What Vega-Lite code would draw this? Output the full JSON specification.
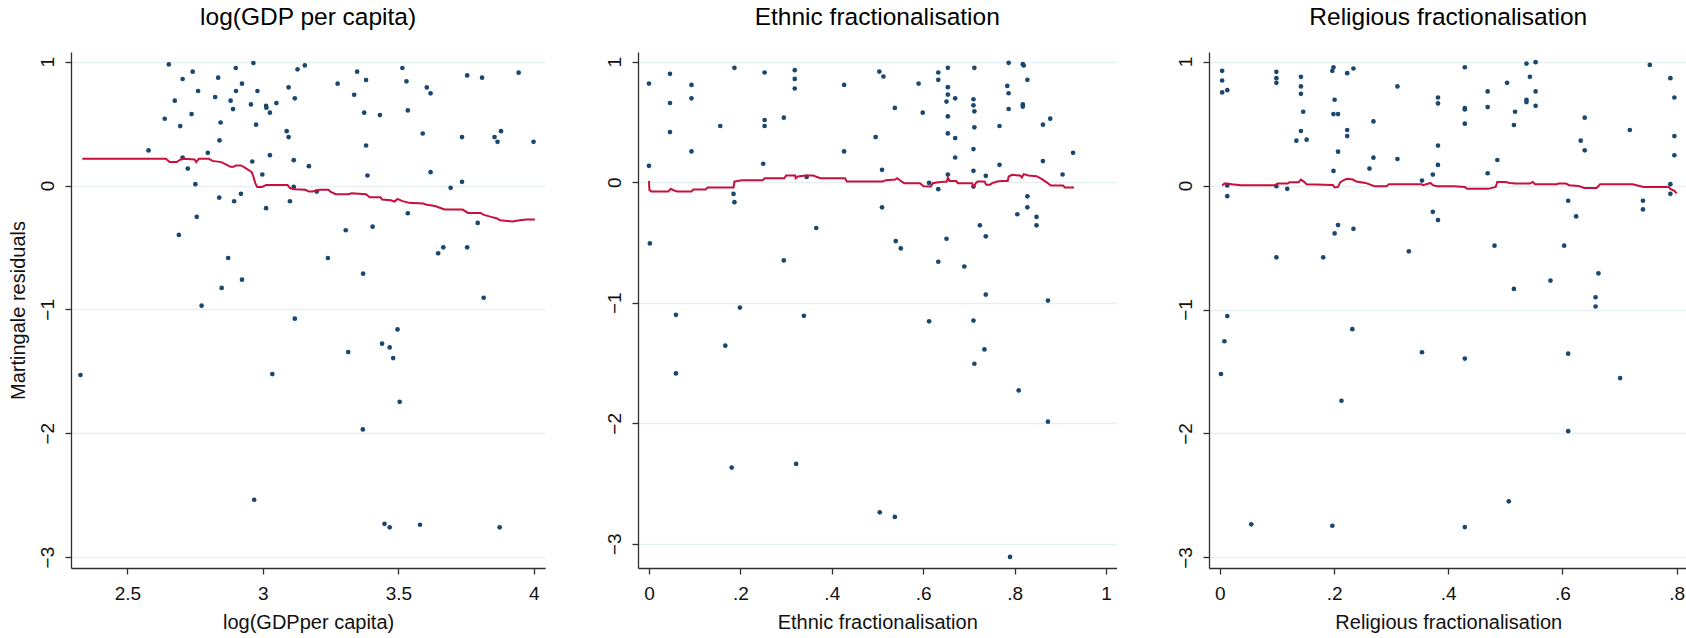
{
  "$schema": "https://vega.github.io/schema/vega-lite/v6.json",
  "background": "white",
  "padding": {"left": 8, "top": 4, "right": 0, "bottom": 0},
  "bounds": "flush",
  "spacing": 92,
  "config": {
    "font": "Liberation Sans",
    "view": {"stroke": null},
    "axis": {
      "domainColor": "#2e2e2e",
      "domainWidth": 1.3,
      "tickColor": "#2e2e2e",
      "tickWidth": 1.3,
      "tickSize": 6,
      "labelColor": "#111111",
      "labelFontSize": 19,
      "labelFlush": false,
      "labelOverlap": false,
      "titleColor": "#111111",
      "titleFontSize": 20,
      "titleFontWeight": "normal"
    },
    "axisX": {
      "grid": false,
      "labelBaseline": "alphabetic",
      "labelPadding": 25.5,
      "titleBaseline": "alphabetic",
      "titleY": 60.8
    },
    "axisY": {
      "grid": true,
      "gridColor": "#e6eff1",
      "gridWidth": 1.3
    },
    "title": {
      "fontSize": 24.5,
      "fontWeight": "normal",
      "color": "#000000",
      "anchor": "middle",
      "frame": "group",
      "baseline": "alphabetic",
      "offset": 22
    }
  },
  "datasets": {
    "gdp_pts": [
      {"x":2.653,"y":0.978},{"x":2.965,"y":0.989},{"x":3.155,"y":0.970},{"x":3.128,"y":0.938},{"x":2.900,"y":0.949},{"x":2.741,"y":0.919},{"x":2.835,"y":0.871},{"x":2.704,"y":0.860},{"x":2.923,"y":0.822},{"x":2.761,"y":0.763},{"x":2.901,"y":0.763},{"x":2.980,"y":0.763},{"x":3.095,"y":0.792},{"x":2.675,"y":0.685},{"x":2.824,"y":0.714},{"x":2.881,"y":0.685},{"x":3.118,"y":0.704},{"x":2.956,"y":0.655},{"x":3.012,"y":0.644},{"x":3.013,"y":0.628},{"x":3.050,"y":0.666},{"x":2.890,"y":0.617},{"x":2.737,"y":0.577},{"x":3.026,"y":0.588},{"x":2.638,"y":0.539},{"x":2.844,"y":0.509},{"x":2.695,"y":0.480},{"x":2.975,"y":0.491},{"x":3.088,"y":0.439},{"x":3.095,"y":0.391},{"x":2.840,"y":0.364},{"x":2.578,"y":0.283},{"x":2.797,"y":0.264},{"x":3.026,"y":0.245},{"x":2.704,"y":0.226},{"x":3.114,"y":0.205},{"x":2.961,"y":0.194},{"x":2.723,"y":0.137},{"x":3.170,"y":0.156},{"x":2.998,"y":0.089},{"x":2.751,"y":0.011},{"x":3.114,"y":-0.011},{"x":2.839,"y":-0.097},{"x":2.919,"y":-0.067},{"x":2.894,"y":-0.127},{"x":3.100,"y":-0.127},{"x":3.012,"y":-0.183},{"x":2.756,"y":-0.253},{"x":2.690,"y":-0.399},{"x":2.872,"y":-0.585},{"x":2.923,"y":-0.760},{"x":2.848,"y":-0.827},{"x":2.774,"y":-0.970},{"x":3.118,"y":-1.075},{"x":3.199,"y":-0.049},{"x":3.276,"y":0.822},{"x":3.348,"y":0.919},{"x":3.381,"y":0.852},{"x":3.337,"y":0.733},{"x":3.374,"y":0.588},{"x":3.432,"y":0.569},{"x":3.381,"y":0.323},{"x":3.386,"y":0.081},{"x":3.515,"y":0.949},{"x":3.530,"y":0.841},{"x":3.535,"y":0.606},{"x":3.605,"y":0.792},{"x":3.619,"y":0.744},{"x":3.590,"y":0.420},{"x":3.619,"y":0.108},{"x":3.754,"y":0.889},{"x":3.809,"y":0.871},{"x":3.944,"y":0.911},{"x":3.735,"y":0.391},{"x":3.855,"y":0.391},{"x":3.879,"y":0.439},{"x":3.866,"y":0.353},{"x":3.999,"y":0.353},{"x":3.693,"y":-0.019},{"x":3.735,"y":0.030},{"x":3.535,"y":-0.224},{"x":3.793,"y":-0.302},{"x":3.306,"y":-0.361},{"x":3.405,"y":-0.332},{"x":3.647,"y":-0.547},{"x":3.666,"y":-0.499},{"x":3.754,"y":-0.499},{"x":3.240,"y":-0.585},{"x":3.370,"y":-0.712},{"x":3.815,"y":-0.906},{"x":3.497,"y":-1.162},{"x":3.440,"y":-1.277},{"x":3.468,"y":-1.307},{"x":3.315,"y":-1.345},{"x":3.481,"y":-1.393},{"x":2.327,"y":-1.530},{"x":3.035,"y":-1.522},{"x":3.505,"y":-1.746},{"x":3.369,"y":-1.969},{"x":2.968,"y":-2.537},{"x":3.449,"y":-2.731},{"x":3.468,"y":-2.760},{"x":3.580,"y":-2.739},{"x":3.874,"y":-2.760}
    ],
    "gdp_smooth": [
      {"x":2.334,"y":0.216},{"x":2.642,"y":0.216},{"x":2.656,"y":0.189},{"x":2.682,"y":0.189},{"x":2.695,"y":0.208},{"x":2.708,"y":0.216},{"x":2.748,"y":0.210},{"x":2.754,"y":0.189},{"x":2.764,"y":0.216},{"x":2.801,"y":0.216},{"x":2.814,"y":0.199},{"x":2.847,"y":0.189},{"x":2.867,"y":0.167},{"x":2.880,"y":0.151},{"x":2.893,"y":0.151},{"x":2.900,"y":0.162},{"x":2.919,"y":0.162},{"x":2.932,"y":0.146},{"x":2.946,"y":0.127},{"x":2.959,"y":0.108},{"x":2.965,"y":0.073},{"x":2.972,"y":0.019},{"x":2.979,"y":-0.011},{"x":2.998,"y":-0.011},{"x":3.012,"y":0.005},{"x":3.091,"y":0.005},{"x":3.101,"y":-0.022},{"x":3.117,"y":-0.030},{"x":3.157,"y":-0.035},{"x":3.170,"y":-0.049},{"x":3.183,"y":-0.049},{"x":3.209,"y":-0.035},{"x":3.242,"y":-0.035},{"x":3.249,"y":-0.049},{"x":3.269,"y":-0.070},{"x":3.315,"y":-0.070},{"x":3.328,"y":-0.062},{"x":3.381,"y":-0.070},{"x":3.394,"y":-0.094},{"x":3.434,"y":-0.094},{"x":3.440,"y":-0.113},{"x":3.473,"y":-0.119},{"x":3.486,"y":-0.129},{"x":3.497,"y":-0.108},{"x":3.513,"y":-0.124},{"x":3.539,"y":-0.140},{"x":3.592,"y":-0.146},{"x":3.605,"y":-0.156},{"x":3.625,"y":-0.162},{"x":3.638,"y":-0.167},{"x":3.658,"y":-0.183},{"x":3.671,"y":-0.194},{"x":3.737,"y":-0.194},{"x":3.757,"y":-0.221},{"x":3.803,"y":-0.221},{"x":3.816,"y":-0.237},{"x":3.842,"y":-0.253},{"x":3.862,"y":-0.264},{"x":3.875,"y":-0.280},{"x":3.921,"y":-0.291},{"x":3.948,"y":-0.280},{"x":3.974,"y":-0.275},{"x":4.004,"y":-0.275}
    ],
    "eth_pts": [
      {"x":0.0,"y":0.818},{"x":0.0,"y":0.136},{"x":0.002,"y":-0.508},{"x":0.046,"y":0.899},{"x":0.046,"y":0.657},{"x":0.046,"y":0.416},{"x":0.093,"y":0.807},{"x":0.093,"y":0.696},{"x":0.093,"y":0.255},{"x":0.059,"y":-1.10},{"x":0.156,"y":0.466},{"x":0.187,"y":0.949},{"x":0.185,"y":-0.097},{"x":0.187,"y":-0.166},{"x":0.199,"y":-1.04},{"x":0.253,"y":0.910},{"x":0.253,"y":0.516},{"x":0.253,"y":0.466},{"x":0.250,"y":0.153},{"x":0.295,"y":0.535},{"x":0.295,"y":-0.649},{"x":0.319,"y":0.929},{"x":0.319,"y":0.857},{"x":0.319,"y":0.777},{"x":0.345,"y":0.044},{"x":0.366,"y":-0.380},{"x":0.339,"y":-1.108},{"x":0.427,"y":0.807},{"x":0.427,"y":0.255},{"x":0.496,"y":0.374},{"x":0.504,"y":0.918},{"x":0.513,"y":0.877},{"x":0.510,"y":0.103},{"x":0.510,"y":-0.208},{"x":0.538,"y":0.616},{"x":0.540,"y":-0.488},{"x":0.551,"y":-0.549},{"x":0.590,"y":0.818},{"x":0.599,"y":0.577},{"x":0.613,"y":-0.006},{"x":0.633,"y":0.910},{"x":0.633,"y":0.849},{"x":0.633,"y":-0.058},{"x":0.633,"y":-0.660},{"x":0.654,"y":0.949},{"x":0.654,"y":0.788},{"x":0.654,"y":0.727},{"x":0.651,"y":0.669},{"x":0.654,"y":0.546},{"x":0.654,"y":0.405},{"x":0.654,"y":0.064},{"x":0.651,"y":-0.469},{"x":0.670,"y":0.696},{"x":0.670,"y":0.366},{"x":0.670,"y":0.205},{"x":0.690,"y":-0.699},{"x":0.712,"y":0.949},{"x":0.710,"y":0.688},{"x":0.710,"y":0.638},{"x":0.712,"y":0.588},{"x":0.712,"y":0.455},{"x":0.710,"y":0.275},{"x":0.710,"y":0.094},{"x":0.710,"y":-0.036},{"x":0.737,"y":0.053},{"x":0.724,"y":-0.358},{"x":0.737,"y":-0.449},{"x":0.737,"y":-0.932},{"x":0.767,"y":0.466},{"x":0.767,"y":0.144},{"x":0.787,"y":0.990},{"x":0.784,"y":0.799},{"x":0.787,"y":0.738},{"x":0.787,"y":0.607},{"x":0.818,"y":0.979},{"x":0.820,"y":0.968},{"x":0.828,"y":0.849},{"x":0.818,"y":0.646},{"x":0.818,"y":0.627},{"x":0.806,"y":-0.266},{"x":0.828,"y":-0.117},{"x":0.828,"y":-0.208},{"x":0.848,"y":-0.288},{"x":0.848,"y":-0.358},{"x":0.862,"y":0.477},{"x":0.862,"y":0.175},{"x":0.878,"y":0.527},{"x":0.873,"y":-0.982},{"x":0.905,"y":0.064},{"x":0.928,"y":0.244},{"x":0.613,"y":-1.154},{"x":0.710,"y":-1.148},{"x":0.167,"y":-1.356},{"x":0.059,"y":-1.586},{"x":0.734,"y":-1.387},{"x":0.712,"y":-1.506},{"x":0.809,"y":-1.727},{"x":0.873,"y":-1.986},{"x":0.181,"y":-2.367},{"x":0.322,"y":-2.337},{"x":0.505,"y":-2.738},{"x":0.538,"y":-2.776},{"x":0.790,"y":-3.108}
    ],
    "eth_smooth": [
      {"x":0.0,"y":0.011},{"x":0.001,"y":-0.064},{"x":0.005,"y":-0.078},{"x":0.042,"y":-0.078},{"x":0.048,"y":-0.055},{"x":0.054,"y":-0.067},{"x":0.062,"y":-0.078},{"x":0.093,"y":-0.078},{"x":0.097,"y":-0.061},{"x":0.124,"y":-0.061},{"x":0.128,"y":-0.044},{"x":0.185,"y":-0.044},{"x":0.187,"y":0.006},{"x":0.203,"y":0.017},{"x":0.249,"y":0.017},{"x":0.253,"y":0.033},{"x":0.296,"y":0.033},{"x":0.300,"y":0.055},{"x":0.320,"y":0.055},{"x":0.321,"y":0.033},{"x":0.326,"y":0.047},{"x":0.343,"y":0.055},{"x":0.359,"y":0.055},{"x":0.375,"y":0.033},{"x":0.429,"y":0.033},{"x":0.433,"y":0.006},{"x":0.511,"y":0.006},{"x":0.519,"y":0.017},{"x":0.539,"y":0.022},{"x":0.543,"y":0.033},{"x":0.553,"y":0.006},{"x":0.558,"y":-0.008},{"x":0.593,"y":-0.008},{"x":0.601,"y":-0.033},{"x":0.617,"y":-0.036},{"x":0.621,"y":-0.008},{"x":0.633,"y":0.0},{"x":0.652,"y":0.006},{"x":0.654,"y":0.039},{"x":0.658,"y":0.011},{"x":0.672,"y":0.011},{"x":0.676,"y":-0.008},{"x":0.707,"y":-0.008},{"x":0.711,"y":-0.036},{"x":0.715,"y":-0.008},{"x":0.719,"y":0.006},{"x":0.734,"y":0.006},{"x":0.738,"y":-0.022},{"x":0.746,"y":-0.022},{"x":0.751,"y":-0.008},{"x":0.762,"y":0.006},{"x":0.773,"y":0.011},{"x":0.785,"y":0.011},{"x":0.787,"y":0.047},{"x":0.795,"y":0.061},{"x":0.812,"y":0.055},{"x":0.816,"y":0.039},{"x":0.820,"y":0.067},{"x":0.830,"y":0.055},{"x":0.848,"y":0.050},{"x":0.859,"y":0.028},{"x":0.871,"y":-0.003},{"x":0.879,"y":-0.028},{"x":0.906,"y":-0.028},{"x":0.910,"y":-0.044},{"x":0.930,"y":-0.044}
    ],
    "rel_pts": [
      {"x":0.004,"y":0.925},{"x":0.004,"y":0.847},{"x":0.004,"y":0.751},{"x":0.013,"y":0.769},{"x":0.013,"y":0.0},{"x":0.013,"y":-0.086},{"x":0.013,"y":-1.053},{"x":0.099,"y":0.917},{"x":0.099,"y":0.866},{"x":0.099,"y":0.828},{"x":0.099,"y":-0.005},{"x":0.099,"y":-0.579},{"x":0.118,"y":-0.027},{"x":0.134,"y":0.362},{"x":0.142,"y":0.877},{"x":0.142,"y":0.799},{"x":0.142,"y":0.740},{"x":0.146,"y":0.595},{"x":0.142,"y":0.440},{"x":0.152,"y":0.370},{"x":0.197,"y":0.925},{"x":0.199,"y":0.954},{"x":0.201,"y":0.692},{"x":0.199,"y":0.576},{"x":0.207,"y":0.576},{"x":0.207,"y":0.273},{"x":0.199,"y":0.118},{"x":0.207,"y":-0.319},{"x":0.201,"y":-0.386},{"x":0.181,"y":-0.579},{"x":0.223,"y":0.906},{"x":0.234,"y":0.944},{"x":0.223,"y":0.448},{"x":0.223,"y":0.399},{"x":0.234,"y":-0.349},{"x":0.269,"y":0.517},{"x":0.269,"y":0.225},{"x":0.262,"y":0.137},{"x":0.311,"y":0.799},{"x":0.311,"y":0.214},{"x":0.331,"y":-0.531},{"x":0.354,"y":0.040},{"x":0.373,"y":0.088},{"x":0.373,"y":-0.212},{"x":0.382,"y":0.710},{"x":0.382,"y":0.662},{"x":0.382,"y":0.322},{"x":0.382,"y":0.166},{"x":0.382,"y":-0.279},{"x":0.429,"y":0.954},{"x":0.429,"y":0.625},{"x":0.429,"y":0.614},{"x":0.429,"y":0.499},{"x":0.469,"y":0.759},{"x":0.469,"y":0.633},{"x":0.469,"y":0.099},{"x":0.486,"y":0.206},{"x":0.481,"y":-0.485},{"x":0.503,"y":0.828},{"x":0.517,"y":0.595},{"x":0.515,"y":0.488},{"x":0.515,"y":-0.834},{"x":0.537,"y":0.984},{"x":0.543,"y":0.877},{"x":0.537,"y":0.692},{"x":0.537,"y":0.673},{"x":0.553,"y":0.995},{"x":0.553,"y":0.759},{"x":0.553,"y":0.643},{"x":0.579,"y":-0.767},{"x":0.603,"y":-0.485},{"x":0.610,"y":-0.123},{"x":0.624,"y":-0.249},{"x":0.632,"y":0.362},{"x":0.639,"y":0.547},{"x":0.639,"y":0.284},{"x":0.663,"y":-0.708},{"x":0.658,"y":-0.901},{"x":0.658,"y":-0.976},{"x":0.718,"y":0.448},{"x":0.741,"y":-0.123},{"x":0.741,"y":-0.193},{"x":0.753,"y":0.973},{"x":0.789,"y":0.866},{"x":0.796,"y":0.710},{"x":0.796,"y":0.399},{"x":0.796,"y":0.244},{"x":0.789,"y":0.011},{"x":0.789,"y":-0.067},{"x":0.008,"y":-1.256},{"x":0.002,"y":-1.520},{"x":0.055,"y":-2.733},{"x":0.197,"y":-2.744},{"x":0.213,"y":-1.736},{"x":0.232,"y":-1.159},{"x":0.354,"y":-1.345},{"x":0.429,"y":-1.396},{"x":0.429,"y":-2.755},{"x":0.506,"y":-2.547},{"x":0.610,"y":-1.356},{"x":0.610,"y":-1.981},{"x":0.701,"y":-1.553}
    ],
    "rel_smooth": [
      {"x":0.004,"y":0.0},{"x":0.008,"y":0.016},{"x":0.013,"y":0.016},{"x":0.021,"y":0.011},{"x":0.037,"y":0.003},{"x":0.097,"y":0.003},{"x":0.101,"y":0.016},{"x":0.119,"y":0.016},{"x":0.122,"y":0.027},{"x":0.138,"y":0.027},{"x":0.142,"y":0.048},{"x":0.147,"y":0.032},{"x":0.152,"y":0.011},{"x":0.198,"y":0.005},{"x":0.201,"y":-0.016},{"x":0.207,"y":-0.011},{"x":0.211,"y":0.027},{"x":0.217,"y":0.043},{"x":0.223,"y":0.054},{"x":0.233,"y":0.048},{"x":0.239,"y":0.032},{"x":0.255,"y":0.021},{"x":0.271,"y":-0.005},{"x":0.292,"y":-0.005},{"x":0.296,"y":0.011},{"x":0.353,"y":0.011},{"x":0.356,"y":0.003},{"x":0.369,"y":0.021},{"x":0.373,"y":0.003},{"x":0.380,"y":-0.005},{"x":0.410,"y":-0.005},{"x":0.429,"y":-0.011},{"x":0.433,"y":-0.027},{"x":0.470,"y":-0.027},{"x":0.483,"y":-0.011},{"x":0.486,"y":0.029},{"x":0.500,"y":0.029},{"x":0.508,"y":0.021},{"x":0.517,"y":0.016},{"x":0.543,"y":0.016},{"x":0.548,"y":0.029},{"x":0.552,"y":0.011},{"x":0.590,"y":0.011},{"x":0.593,"y":0.016},{"x":0.606,"y":0.016},{"x":0.612,"y":0.003},{"x":0.628,"y":-0.003},{"x":0.638,"y":-0.019},{"x":0.660,"y":-0.019},{"x":0.666,"y":0.011},{"x":0.723,"y":0.011},{"x":0.742,"y":-0.011},{"x":0.786,"y":-0.011},{"x":0.789,"y":-0.027},{"x":0.796,"y":-0.043},{"x":0.800,"y":-0.064}
    ]
  },
  "hconcat": [
    {
      "width": 474.2,
      "height": 516,
      "title": {"text": "log(GDP per capita)"},
      "layer": [
        {
          "data": {"name": "gdp_pts"},
          "mark": {"type": "circle", "size": 22, "opacity": 1, "color": "#1a476f"},
          "encoding": {
            "x": {"field": "x", "type": "quantitative", "scale": {"domain": [2.292, 4.042], "nice": false, "zero": false},
                  "axis": {"title": "log(GDPper capita)", "values": [2.5, 3, 3.5, 4], "labelExpr": "'' + datum.value", "titleX": 237.1}},
            "y": {"field": "y", "type": "quantitative", "scale": {"domain": [-3.088, 1.078], "nice": false, "zero": false},
                  "axis": {"title": "Martingale residuals", "values": [-3, -2, -1, 0, 1], "format": "d",
                           "labelAngle": 270, "labelAlign": "center", "labelBaseline": "alphabetic", "labelPadding": 11.5,
                           "titleX": -47, "titleY": 258, "titleAngle": 270, "titleBaseline": "alphabetic", "titleAlign": "center"}}
          }
        },
        {
          "data": {"name": "gdp_smooth"},
          "mark": {"type": "line", "color": "#c8103c", "strokeWidth": 2},
          "encoding": {
            "x": {"field": "x", "type": "quantitative"},
            "y": {"field": "y", "type": "quantitative"}
          }
        }
      ]
    },
    {
      "width": 478.5,
      "height": 516,
      "title": {"text": "Ethnic fractionalisation"},
      "layer": [
        {
          "data": {"name": "eth_pts"},
          "mark": {"type": "circle", "size": 22, "opacity": 1, "color": "#1a476f"},
          "encoding": {
            "x": {"field": "x", "type": "quantitative", "scale": {"domain": [-0.024, 1.023], "nice": false, "zero": false},
                  "axis": {"title": "Ethnic fractionalisation", "values": [0, 0.2, 0.4, 0.6, 0.8, 1], "titleX": 239.25,
                           "labelExpr": "datum.value == 0 ? '0' : datum.value == 1 ? '1' : replace(format(datum.value, '.1f'), '0.', '.')"}},
            "y": {"field": "y", "type": "quantitative", "scale": {"domain": [-3.2, 1.08], "nice": false, "zero": false},
                  "axis": {"title": null, "values": [-3, -2, -1, 0, 1], "format": "d",
                           "labelAngle": 270, "labelAlign": "center", "labelBaseline": "alphabetic", "labelPadding": 11.5}}
          }
        },
        {
          "data": {"name": "eth_smooth"},
          "mark": {"type": "line", "color": "#c8103c", "strokeWidth": 2},
          "encoding": {
            "x": {"field": "x", "type": "quantitative"},
            "y": {"field": "y", "type": "quantitative"}
          }
        }
      ]
    },
    {
      "width": 478.5,
      "height": 516,
      "title": {"text": "Religious fractionalisation"},
      "layer": [
        {
          "data": {"name": "rel_pts"},
          "mark": {"type": "circle", "size": 22, "opacity": 1, "color": "#1a476f"},
          "encoding": {
            "x": {"field": "x", "type": "quantitative", "scale": {"domain": [-0.019, 0.819], "nice": false, "zero": false},
                  "axis": {"title": "Religious fractionalisation", "values": [0, 0.2, 0.4, 0.6, 0.8], "titleX": 239.25,
                           "labelExpr": "datum.value == 0 ? '0' : replace(format(datum.value, '.1f'), '0.', '.')"}},
            "y": {"field": "y", "type": "quantitative", "scale": {"domain": [-3.085, 1.077], "nice": false, "zero": false},
                  "axis": {"title": null, "values": [-3, -2, -1, 0, 1], "format": "d",
                           "labelAngle": 270, "labelAlign": "center", "labelBaseline": "alphabetic", "labelPadding": 11.5}}
          }
        },
        {
          "data": {"name": "rel_smooth"},
          "mark": {"type": "line", "color": "#c8103c", "strokeWidth": 2},
          "encoding": {
            "x": {"field": "x", "type": "quantitative"},
            "y": {"field": "y", "type": "quantitative"}
          }
        }
      ]
    }
  ]
}
